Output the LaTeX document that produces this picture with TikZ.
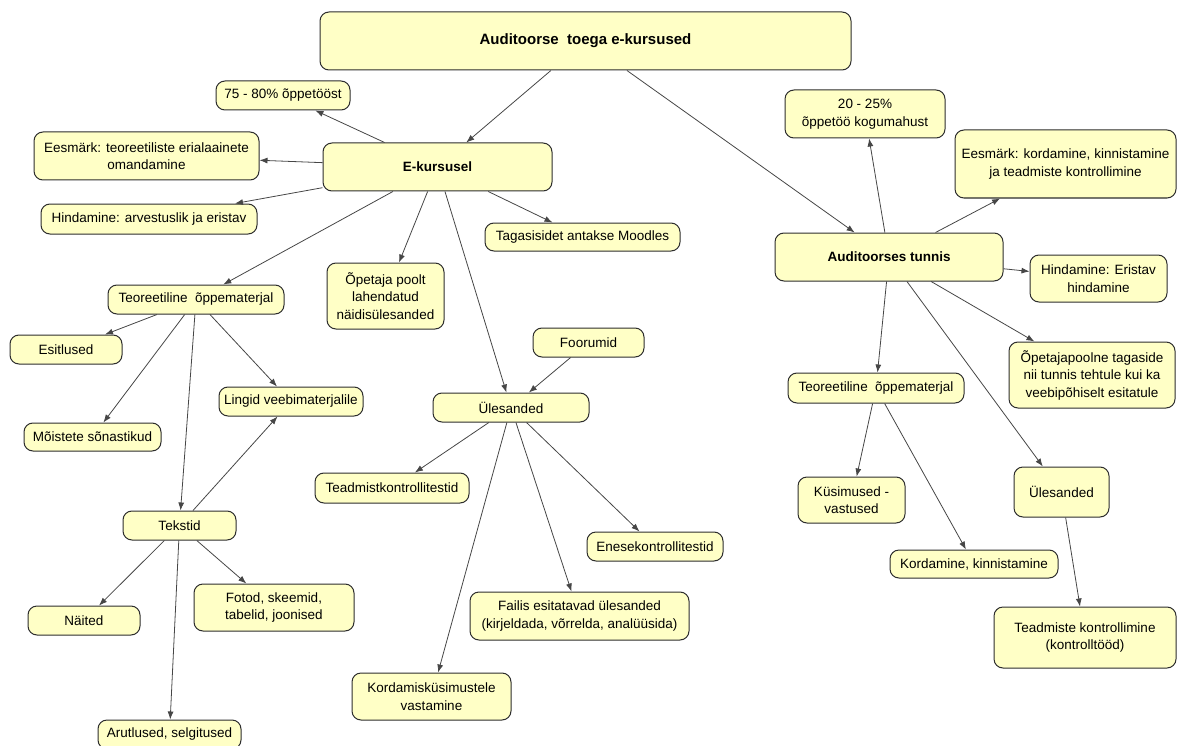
\documentclass[tikz,border=0pt]{standalone}
\usepackage{fontspec}
\setmainfont{Liberation Sans}
\usepackage{tikz}
\usetikzlibrary{arrows.meta}

\definecolor{cmfill}{RGB}{255,255,198}
\definecolor{cmedge}{RGB}{45,45,45}
\definecolor{cmline}{RGB}{70,70,70}

\begin{document}
\begin{tikzpicture}[
  x=1pt, y=-1pt,
  box/.style={draw=cmedge, fill=cmfill, rounded corners=9pt, line width=1pt,
              inner sep=3pt, align=center, text=black,
              font=\fontsize{13.5}{17.5}\selectfont},
  hd/.style={box, font=\fontsize{13.5}{17.5}\selectfont\bfseries},
  arr/.style={-{Latex[length=8pt,width=6pt]}, draw=cmline, line width=0.8pt},
]
\useasboundingbox (0,0) rectangle (1177,746);

% ---- Root ------------------------------------------------------------------
\node[box, font=\fontsize{15}{18}\selectfont\bfseries,
      minimum width=531pt, minimum height=58pt]
  (root) at (585.5,41) {Auditoorse\ \ toega e-kursused};

% ---- E-course branch -------------------------------------------------------
\node[hd, minimum width=229pt, minimum height=48pt] (ekurs) at (437.5,167) {E-kursusel};
\node[box, minimum width=134pt, minimum height=29pt] (p75) at (283,95.5) {75 - 80\% õppetööst};
\node[box, minimum width=225pt, minimum height=48pt] (eesL) at (146.5,156)
  {Eesmärk: teoreetiliste erialaainete\\omandamine};
\node[box, minimum width=216pt, minimum height=30pt] (hindL) at (149,219)
  {Hindamine: arvestuslik ja eristav};
\node[box, minimum width=195pt, minimum height=28pt] (tagasi) at (582.5,237)
  {Tagasisidet antakse Moodles};
\node[box, minimum width=117pt, minimum height=66pt] (opet) at (385.5,296)
  {Õpetaja poolt\\lahendatud\\näidisülesanded};

\draw[arr] (root) -- (ekurs);
\draw[arr] (ekurs) -- (p75);
\draw[arr] (ekurs) -- (eesL);
\draw[arr] (ekurs) -- (hindL);
\draw[arr] (ekurs) -- (tagasi);
\draw[arr] (ekurs) -- (opet);

% ---- Theory material (left) ------------------------------------------------
\node[box, minimum width=176pt, minimum height=29pt] (teorL) at (196,299.5)
  {Teoreetiline\ \ õppematerjal};
\node[box, minimum width=112pt, minimum height=29pt] (esit) at (66,349.5) {Esitlused};
\node[box, minimum width=144pt, minimum height=29pt] (lingid) at (291,401.5)
  {Lingid veebimaterjalile};
\node[box, minimum width=137pt, minimum height=28pt] (moist) at (92.5,437)
  {Mõistete sõnastikud};
\node[box, minimum width=113pt, minimum height=29pt] (tekst) at (179.5,525.5) {Tekstid};
\node[box, minimum width=112pt, minimum height=29pt] (naited) at (84,620.5) {Näited};
\node[box, minimum width=160pt, minimum height=47pt] (fotod) at (274,607.5)
  {Fotod, skeemid,\\tabelid, joonised};
\node[box, minimum width=143pt, minimum height=29pt] (arut) at (169.5,734.5)
  {Arutlused, selgitused};

\draw[arr] (ekurs) -- (teorL);
\draw[arr] (teorL) -- (esit);
\draw[arr] (teorL) -- (moist);
\draw[arr] (teorL) -- (tekst);
\draw[arr] (teorL) -- (lingid);
\draw[arr] (tekst) -- (lingid);
\draw[arr] (tekst) -- (naited);
\draw[arr] (tekst) -- (fotod);
\draw[arr] (tekst) -- (arut);

% ---- Tasks (middle) --------------------------------------------------------
\node[box, minimum width=111pt, minimum height=29pt] (foor) at (588.5,342.5) {Foorumid};
\node[box, minimum width=156pt, minimum height=29pt] (ulesM) at (511,407.5) {Ülesanded};
\node[box, minimum width=154pt, minimum height=30pt] (teadmT) at (392,488)
  {Teadmistkontrollitestid};
\node[box, minimum width=136pt, minimum height=29pt] (enese) at (655,546.5)
  {Enesekontrollitestid};
\node[box, minimum width=219pt, minimum height=48pt] (failis) at (579.5,616)
  {Failis esitatavad ülesanded\\(kirjeldada, võrrelda, analüüsida)};
\node[box, minimum width=159pt, minimum height=47pt] (kordK) at (431.5,696.5)
  {Kordamisküsimustele\\vastamine};

\draw[arr] (ekurs) -- (ulesM);
\draw[arr] (foor) -- (ulesM);
\draw[arr] (ulesM) -- (teadmT);
\draw[arr] (ulesM) -- (kordK);
\draw[arr] (ulesM) -- (failis);
\draw[arr] (ulesM) -- (enese);

% ---- Classroom branch ------------------------------------------------------
\node[hd, minimum width=228pt, minimum height=48pt] (audT) at (889,257) {Auditoorses tunnis};
\node[box, minimum width=160pt, minimum height=48pt] (p20) at (865,114)
  {20 - 25\%\\õppetöö kogumahust};
\node[box, minimum width=221pt, minimum height=68pt] (eesR) at (1065.5,164)
  {Eesmärk: kordamine, kinnistamine\\ja teadmiste kontrollimine};
\node[box, minimum width=137pt, minimum height=47pt] (hindR) at (1098.5,278.5)
  {Hindamine: Eristav\\hindamine};
\node[box, minimum width=166pt, minimum height=66pt] (opetR) at (1092,375)
  {Õpetajapoolne tagaside\\nii tunnis tehtule kui ka\\veebipõhiselt esitatule};
\node[box, minimum width=176pt, minimum height=30pt] (teorR) at (876,388)
  {Teoreetiline\ \ õppematerjal};
\node[box, minimum width=107pt, minimum height=46pt] (kysim) at (851.5,500)
  {Küsimused -\\vastused};
\node[box, minimum width=95pt, minimum height=50pt] (ulesR) at (1061.5,492) {Ülesanded};
\node[box, minimum width=168pt, minimum height=28pt] (kordR) at (974,564)
  {Kordamine, kinnistamine};
\node[box, minimum width=182pt, minimum height=61pt] (teadmR) at (1085,637.5)
  {Teadmiste kontrollimine\\(kontrolltööd)};

\draw[arr] (root) -- (audT);
\draw[arr] (audT) -- (p20);
\draw[arr] (audT) -- (eesR);
\draw[arr] (audT) -- (hindR);
\draw[arr] (audT) -- (opetR);
\draw[arr] (audT) -- (teorR);
\draw[arr] (audT) -- (ulesR);
\draw[arr] (teorR) -- (kysim);
\draw[arr] (teorR) -- (kordR);
\draw[arr] (ulesR) -- (teadmR);

\end{tikzpicture}
\end{document}
